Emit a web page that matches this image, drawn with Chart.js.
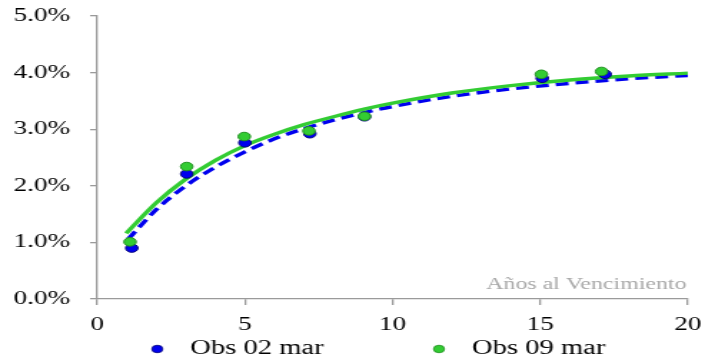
<!DOCTYPE html>
<html>
<head>
<meta charset="utf-8">
<script src="https://cdn.jsdelivr.net/npm/chart.js@4"></script>
<style>
  html, body { margin: 0; padding: 0; background: #ffffff; overflow: hidden; }
  #wrap { position: absolute; left: 0; top: 0; width: 493px; height: 362px; transform: scaleX(1.43002); transform-origin: 0 0; }
</style>
</head>
<body>
<div id="wrap"><canvas id="c"></canvas></div>
<script>
// Observed yields (%) by years to maturity
const maturityObs02 = [1.17, 3.03, 5.00, 7.20, 9.05, 15.07, 17.20];
const yieldObs02    = [0.90, 2.21, 2.76, 2.92, 3.22, 3.90, 3.97];
const maturityObs09 = [1.11, 3.03, 4.98, 7.17, 9.05, 15.04, 17.08];
const yieldObs09    = [1.01, 2.34, 2.87, 2.97, 3.23, 3.97, 4.02];

// Fitted curves (%)
const curveX02 = [1.05, 2, 3, 4, 5, 6, 7, 8, 9, 10, 12, 14, 16, 18, 20];
const curve02  = [1.06, 1.58, 2.00, 2.33, 2.60, 2.83, 3.01, 3.16, 3.29, 3.40, 3.58, 3.71, 3.81, 3.89, 3.95];
const curveX09 = [0.98, 2, 3, 4, 5, 6, 7, 8, 9, 10, 12, 14, 16, 18, 20];
const curve09  = [1.16, 1.70, 2.12, 2.45, 2.71, 2.91, 3.08, 3.22, 3.35, 3.46, 3.64, 3.77, 3.87, 3.94, 3.99];

// Axis ticks and labels
const xTicks = [0, 5, 10, 15, 20];
const yTicks = [0, 1, 2, 3, 4, 5];
const seriesLabels = ['Obs 02 mar', 'Obs 09 mar'];
const axisNote = 'Años al Vencimiento';

const zip = (xs, ys) => xs.map((x, i) => ({ x: x, y: ys[i] }));

const BLUE = '#0000ee';
const GREEN = '#33cc33';
const FONT = '"Liberation Serif", "Times New Roman", serif';

const extrasPlugin = {
  id: 'extras',
  afterDraw(chart) {
    const ctx = chart.ctx;
    const area = chart.chartArea;
    ctx.save();
    // axis note
    ctx.font = '16.7px ' + FONT;
    ctx.fillStyle = '#a8a8a8';
    ctx.textAlign = 'right';
    ctx.textBaseline = 'alphabetic';
    ctx.fillText(axisNote, area.right - 1, 289);
    // legend
    const items = [
      { label: seriesLabels[0], fill: BLUE, stroke: '#00007a', cx: 110 },
      { label: seriesLabels[1], fill: GREEN, stroke: '#1f8f1f', cx: 307 }
    ];
    ctx.font = '20px ' + FONT;
    ctx.textAlign = 'left';
    ctx.textBaseline = 'middle';
    items.forEach(it => {
      ctx.beginPath();
      ctx.arc(it.cx, 349, 3.8, 0, Math.PI * 2);
      ctx.fillStyle = it.fill;
      ctx.fill();
      ctx.lineWidth = 0.8;
      ctx.strokeStyle = it.stroke;
      ctx.stroke();
      ctx.fillStyle = '#000000';
      ctx.fillText(it.label, it.cx + 23, 349);
    });
    ctx.restore();
  }
};

new Chart(document.getElementById('c'), {
  type: 'scatter',
  data: {
    datasets: [
      {
        label: seriesLabels[1],
        data: zip(maturityObs09, yieldObs09),
        backgroundColor: GREEN,
        borderColor: '#1f8f1f',
        borderWidth: 1,
        pointRadius: 4.3,
        pointHoverRadius: 4.3,
        showLine: false
      },
      {
        label: seriesLabels[0],
        data: zip(maturityObs02, yieldObs02),
        backgroundColor: BLUE,
        borderColor: '#00007a',
        borderWidth: 1,
        pointRadius: 4.3,
        pointHoverRadius: 4.3,
        showLine: false
      },
      {
        label: 'Curva 09 mar',
        data: zip(curveX09, curve09),
        showLine: true,
        borderColor: GREEN,
        backgroundColor: GREEN,
        borderWidth: 3.4,
        pointRadius: 0,
        cubicInterpolationMode: 'monotone',
        fill: false
      },
      {
        label: 'Curva 02 mar',
        data: zip(curveX02, curve02),
        showLine: true,
        borderColor: BLUE,
        backgroundColor: BLUE,
        borderWidth: 3.4,
        borderDash: [9, 5],
        pointRadius: 0,
        cubicInterpolationMode: 'monotone',
        fill: false
      }
    ]
  },
  options: {
    responsive: true,
    maintainAspectRatio: false,
    animation: false,
    events: [],
    layout: { padding: { left: 0, right: 12, top: 16, bottom: 0 } },
    plugins: {
      legend: { display: false },
      tooltip: { enabled: false },
      title: { display: false }
    },
    scales: {
      x: {
        type: 'linear',
        min: 0,
        max: 20,
        afterBuildTicks(scale) { scale.ticks = xTicks.map(v => ({ value: v })); },
        afterFit(scale) {
          scale.height = 63;
          scale.paddingLeft = 0;
          scale.paddingRight = 0;
        },
        ticks: {
          color: '#000000',
          font: { family: FONT, size: 19 },
          padding: 9,
          maxRotation: 0,
          callback: v => String(v)
        },
        grid: {
          display: true,
          drawOnChartArea: false,
          drawTicks: true,
          tickLength: 6,
          color: '#9a9a9a',
          lineWidth: 1.3
        },
        border: { display: true, color: '#9a9a9a', width: 1.3 }
      },
      y: {
        type: 'linear',
        min: 0,
        max: 5,
        afterBuildTicks(scale) { scale.ticks = yTicks.map(v => ({ value: v })); },
        afterFit(scale) {
          scale.width = 68;
          scale.paddingTop = 0;
          scale.paddingBottom = 0;
        },
        ticks: {
          color: '#000000',
          font: { family: FONT, size: 19 },
          padding: 14,
          callback: v => Number(v).toFixed(1) + '%'
        },
        grid: {
          display: true,
          drawOnChartArea: false,
          drawTicks: true,
          tickLength: 5,
          color: '#9a9a9a',
          lineWidth: 1.3
        },
        border: { display: true, color: '#9a9a9a', width: 1.3 }
      }
    }
  },
  plugins: [extrasPlugin]
});
</script>
</body>
</html>
